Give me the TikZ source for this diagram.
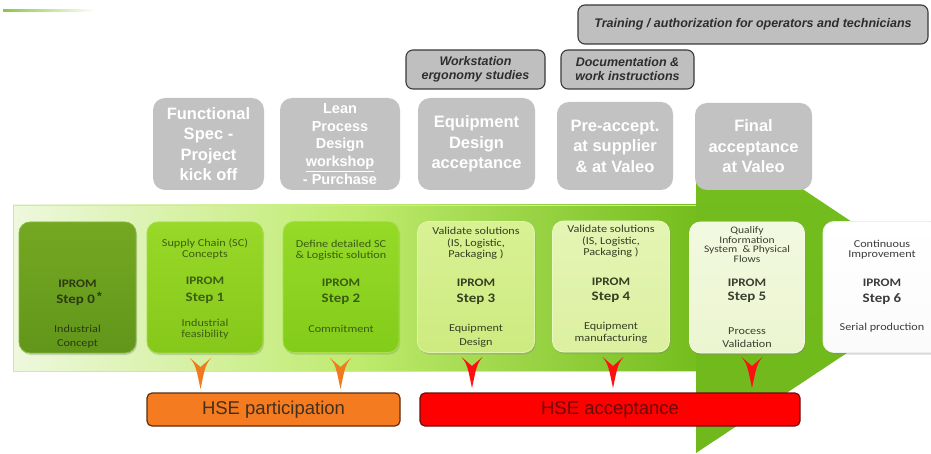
\documentclass[tikz,border=0pt]{standalone}
\usepackage{fontspec}
\usetikzlibrary{shadows}
\newfontfamily\calfont{Carlito}[FakeStretch=1.15]
\newfontfamily\arfont{Liberation Sans}

\definecolor{bandL}{HTML}{EEF8DD}
\definecolor{bandM}{HTML}{BFEB6E}
\definecolor{bandR}{HTML}{74BD1C}
\definecolor{bandEdge}{HTML}{D2E4B6}
\definecolor{headT}{HTML}{74BE1D}
\definecolor{headB}{HTML}{70B81C}
\definecolor{accent}{HTML}{8CC63F}
\definecolor{greyBox}{HTML}{C2C2C2}
\definecolor{greyTag}{HTML}{BFBFBF}
\definecolor{greyEdge}{HTML}{3A3A3A}
\definecolor{tagText}{HTML}{2E2E2E}
\definecolor{hseOrange}{HTML}{F47B20}
\definecolor{hseOrangeEdge}{HTML}{5E2D0C}
\definecolor{hseOrangeText}{HTML}{40301E}
\definecolor{hseRed}{HTML}{FF0000}
\definecolor{hseRedEdge}{HTML}{6E0D0D}
\definecolor{hseRedText}{HTML}{6A0A0A}
\definecolor{arrOrange}{HTML}{F07A1E}
\definecolor{arrRed}{HTML}{FF1010}
% step box colours
\definecolor{sAt}{HTML}{74A822}\definecolor{sAb}{HTML}{62961A}\definecolor{sAe}{HTML}{86B83A}\definecolor{sAx}{HTML}{2C3A10}
\definecolor{sBt}{HTML}{98D828}\definecolor{sBb}{HTML}{86C81A}\definecolor{sBe}{HTML}{A6DC48}\definecolor{sBx}{HTML}{3D5E12}
\definecolor{sCt}{HTML}{96DA28}\definecolor{sCb}{HTML}{84CC1A}\definecolor{sCe}{HTML}{A8E04A}\definecolor{sCx}{HTML}{3A5C10}
\definecolor{sDt}{HTML}{D8F194}\definecolor{sDb}{HTML}{CDEB80}\definecolor{sDe}{HTML}{E0F4B0}\definecolor{sDx}{HTML}{363F22}
\definecolor{sEt}{HTML}{E4F5B4}\definecolor{sEb}{HTML}{DCF0A0}\definecolor{sEe}{HTML}{EAF8C8}\definecolor{sEx}{HTML}{363F22}
\definecolor{sFt}{HTML}{F2F9E0}\definecolor{sFb}{HTML}{ECF5D0}\definecolor{sFe}{HTML}{F6FBE8}\definecolor{sFx}{HTML}{3A3F30}
\definecolor{sGt}{HTML}{FFFFFF}\definecolor{sGb}{HTML}{FBFBFB}\definecolor{sGe}{HTML}{EEEEEE}\definecolor{sGx}{HTML}{3C3C3C}

\tikzset{
  stepbox/.style={rounded corners=11pt, line width=0.8pt, minimum height=131pt,
    drop shadow={opacity=0.3, shadow xshift=1pt, shadow yshift=-2pt}},
  milestone/.style={rounded corners=12pt, fill=greyBox, text=white, align=center,
    inner sep=0pt, font=\arfont\bfseries\fontsize{16.5}{20.5}\selectfont},
  tagbox/.style={rounded corners=7pt, fill=greyTag, draw=greyEdge, line width=1.1pt,
    text=tagText, align=center, inner sep=0pt, minimum height=39pt,
    font=\arfont\bfseries\itshape\fontsize{12.5}{14}\selectfont},
  hsebox/.style={rounded corners=5pt, line width=1.2pt, minimum height=33pt,
    inner sep=0pt, font=\arfont\fontsize{18.5}{20}\selectfont},
  sm/.style={font=\calfont\fontsize{10.6}{#1}\selectfont, align=center, inner sep=0pt},
  sm/.default=11,
  iprom/.style={font=\calfont\bfseries\fontsize{11.5}{13}\selectfont, inner sep=0pt},
  stepno/.style={font=\calfont\bfseries\fontsize{13}{15}\selectfont, inner sep=0pt},
  hsearrow/.pic={\fill[#1] (-10.5,0) -- (0,9) -- (10.5,0)
      .. controls (6,6) .. (3.4,15) -- (0,31) -- (-3.4,15) .. controls (-6,6) .. (-10.5,0) -- cycle;}
}

\begin{document}
\begin{tikzpicture}[x=1pt,y=-1pt]
\useasboundingbox (0,0) rectangle (931,454);
\clip (0,0) rectangle (931,454);
\fill[white] (0,0) rectangle (931,454);

% small accent stroke, top left
\shade[left color=accent, right color=white] (3,10) rectangle (95,12);

% process band with its arrow head
\shade[left color=bandL, right color=bandR, middle color=bandM] (13,205) rectangle (699,371);
\draw[bandEdge, line width=0.8pt] (699,205) -- (13,205) -- (13,371) -- (699,371);
\shade[top color=headT, bottom color=headB] (696,118) -- (948,286) -- (696,453) -- cycle;

% IPROM steps
\node[stepbox, minimum width=117pt, top color=sAt, bottom color=sAb, draw=sAe] (s0) at (77.5,287.5) {};
\node[stepbox, minimum width=116pt, top color=sBt, bottom color=sBb, draw=sBe] (s1) at (205,287.5) {};
\node[stepbox, minimum width=116pt, top color=sCt, bottom color=sCb, draw=sCe] (s2) at (341,287) {};
\node[stepbox, minimum width=117pt, top color=sDt, bottom color=sDb, draw=sDe] (s3) at (476,287) {};
\node[stepbox, minimum width=117pt, top color=sEt, bottom color=sEb, draw=sEe] (s4) at (611,286.5) {};
\node[stepbox, minimum width=115pt, top color=sFt, bottom color=sFb, draw=sFe] (s5) at (747,287.5) {};
\node[stepbox, minimum width=118pt, top color=sGt, bottom color=sGb, draw=sGe] (s6) at (882,287) {};

% step 0
\node[iprom, text=sAx] (s0a) at (77.5,284) {IPROM};
\node[stepno, text=sAx] (s0b) at (79,299) {Step 0\,\raisebox{2.5pt}{\arfont\bfseries\fontsize{12}{12}\selectfont*}};
\node[sm=14, text=sAx] (s0c) at (77.5,337) {Industrial\\Concept};
% step 1
\node[sm, text=sBx] (s1t) at (205,248.5) {Supply Chain (SC)\\Concepts};
\node[iprom, text=sBx] (s1a) at (205,281) {IPROM};
\node[stepno, text=sBx] (s1b) at (205,298) {Step 1};
\node[sm, text=sBx] (s1c) at (205,329.5) {Industrial\\feasibility};
% step 2
\node[sm, text=sCx] (s2t) at (341,250.5) {Define detailed SC\\\& Logistic solution};
\node[iprom, text=sCx] (s2a) at (341,283) {IPROM};
\node[stepno, text=sCx] (s2b) at (341,299) {Step 2};
\node[sm, text=sCx] (s2c) at (341,329) {Commitment};
% step 3
\node[sm, text=sDx] (s3t) at (476,231) {Validate solutions};
\node[sm, text=sDx] (s3u) at (476,249.5) {(IS, Logistic,\\Packaging )};
\node[iprom, text=sDx] (s3a) at (476,283) {IPROM};
\node[stepno, text=sDx] (s3b) at (476,299) {Step 3};
\node[sm=14, text=sDx] (s3c) at (476,336) {Equipment\\Design};
% step 4
\node[sm, text=sEx] (s4t) at (611,229) {Validate solutions};
\node[sm, text=sEx] (s4u) at (611,247.5) {(IS, Logistic,\\Packaging )};
\node[iprom, text=sEx] (s4a) at (611,282) {IPROM};
\node[stepno, text=sEx] (s4b) at (611,297) {Step 4};
\node[sm=12, text=sEx] (s4c) at (611,333) {Equipment\\manufacturing};
% step 5
\node[sm=9.6, text=sFx, font=\calfont\fontsize{10}{9.6}\selectfont] (s5t) at (747,244.5) {Qualify\\Information\\System \ \& Physical\\Flows};
\node[iprom, text=sFx] (s5a) at (747,283) {IPROM};
\node[stepno, text=sFx] (s5b) at (747,297) {Step 5};
\node[sm=13, text=sFx] (s5c) at (747,337.5) {Process\\Validation};
% step 6
\node[sm=9.6, text=sGx] (s6t) at (882,249.5) {Continuous\\Improvement};
\node[iprom, text=sGx] (s6a) at (882,283) {IPROM};
\node[stepno, text=sGx] (s6b) at (882,299) {Step 6};
\node[sm, text=sGx] (s6c) at (882,328) {Serial production};

% milestones above the steps
\node[milestone, minimum width=111pt, minimum height=92pt] (m1) at (208.5,144) {Functional\\Spec -\\Project\\kick off};
\node[milestone, minimum width=120pt, minimum height=92pt, font=\arfont\bfseries\fontsize{14.5}{17.7}\selectfont] (m2) at (340,144) {Lean\\Process\\Design\\\underline{workshop}\\- Purchase};
\node[milestone, minimum width=117pt, minimum height=92pt] (m3) at (476.5,144) {Equipment\\Design\\acceptance};
\node[milestone, minimum width=116pt, minimum height=88pt] (m4) at (615,146) {Pre-accept.\\at supplier\\\& at Valeo};
\node[milestone, minimum width=117pt, minimum height=87pt] (m5) at (753.5,146.5) {Final\\acceptance\\at Valeo};

% HSE tasks
\node[tagbox, minimum width=350pt] (t1) at (753,24.5) {Training / authorization for operators and technicians};
\node[tagbox, minimum width=139pt] (t2) at (475.5,69.5) {Workstation\\ergonomy studies};
\node[tagbox, minimum width=133pt] (t3) at (627.5,69.5) {Documentation \&\\work instructions};

% HSE involvement
\node[hsebox, minimum width=253pt, fill=hseOrange, draw=hseOrangeEdge, text=hseOrangeText] (h1) at (273.5,409.5) {HSE participation};
\node[hsebox, minimum width=380pt, fill=hseRed, draw=hseRedEdge, text=hseRedText] (h2) at (610,409.5) {HSE acceptance};

\coordinate (a1) at (200.5,358);
\coordinate (a2) at (340.5,358);
\coordinate (a3) at (472,357);
\coordinate (a4) at (613,357);
\coordinate (a5) at (752,357);
\pic at (a1) {hsearrow=arrOrange};
\pic at (a2) {hsearrow=arrOrange};
\pic at (a3) {hsearrow=arrRed};
\pic at (a4) {hsearrow=arrRed};
\pic at (a5) {hsearrow=arrRed};
\end{tikzpicture}
\end{document}
